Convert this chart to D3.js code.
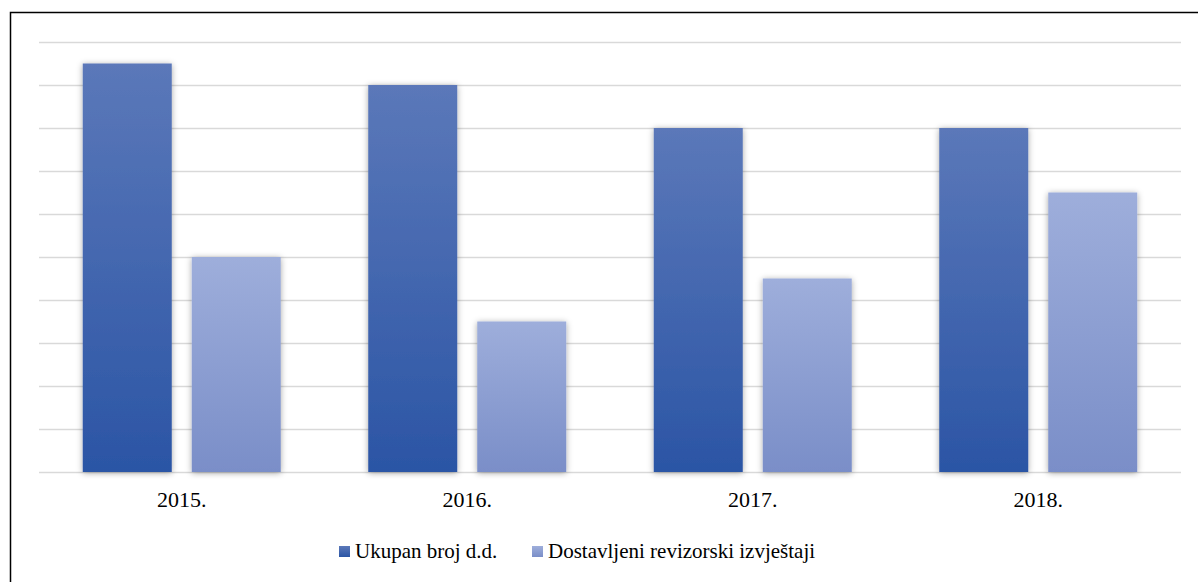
<!DOCTYPE html>
<html>
<head>
<meta charset="utf-8">
<script src="https://cdn.jsdelivr.net/npm/d3@7"></script>
<style>
  html, body { margin: 0; padding: 0; background: #fff; }
</style>
</head>
<body>
<div id="chart"></div>
<script>
// chart data
const years = ['2015.', '2016.', '2017.', '2018.']
const seriesNames = ['Ukupan broj d.d.', 'Dostavljeni revizorski izvještaji']
const totalCompanies = [9.5, 9, 8, 8]
const deliveredReports = [5, 3.5, 4.5, 6.5]
const yTicks = [0, 1, 2, 3, 4, 5, 6, 7, 8, 9, 10]

const W = 1198, H = 582
const margin = { t: 42, r: 17, b: 110, l: 39 }
const plotW = W - margin.l - margin.r
const plotH = H - margin.t - margin.b
const serif = "'Liberation Serif', 'Times New Roman', 'DejaVu Serif', serif"

const svg = d3.select('#chart').append('svg')
  .attr('width', W).attr('height', H)

// gradients + shadow
const defs = svg.append('defs')
const grads = [
  { id: 'gDark', top: '#5b78b9', bottom: '#2b55a5' },
  { id: 'gLight', top: '#9eaedb', bottom: '#7a8ec8' }
]
grads.forEach(function (g) {
  const lg = defs.append('linearGradient').attr('id', g.id)
    .attr('x1', 0).attr('y1', 0).attr('x2', 0).attr('y2', 1)
  lg.append('stop').attr('offset', '0%').attr('stop-color', g.top)
  lg.append('stop').attr('offset', '100%').attr('stop-color', g.bottom)
})
const f = defs.append('filter').attr('id', 'shadow')
  .attr('x', '-20%').attr('y', '-10%').attr('width', '140%').attr('height', '120%')
f.append('feDropShadow').attr('dx', 0).attr('dy', 1).attr('stdDeviation', 3)
  .attr('flood-color', '#000').attr('flood-opacity', 0.35)

// outer frame
svg.append('rect')
  .attr('x', 10.5).attr('y', 12.5).attr('width', 1300).attr('height', 700)
  .attr('fill', 'none').attr('stroke', '#000').attr('stroke-width', 1.5)

const g = svg.append('g').attr('transform', 'translate(' + margin.l + ',' + margin.t + ')')

const x = d3.scaleBand().domain(years).range([0, plotW]).paddingInner(0).paddingOuter(0)
const groupW = 198
const x1 = d3.scaleBand().domain(seriesNames).range([0, groupW]).paddingInner(20 / 109)
const y = d3.scaleLinear().domain([0, 10]).range([plotH, 0])

// gridlines
g.append('g').selectAll('line').data(yTicks).enter().append('line')
  .attr('x1', 0).attr('x2', plotW)
  .attr('y1', d => Math.round(y(d)) + 0.5).attr('y2', d => Math.round(y(d)) + 0.5)
  .attr('stroke', '#d9d9d9').attr('stroke-width', 1.5)

const data = years.map(function (yr, i) {
  return { year: yr, values: [totalCompanies[i], deliveredReports[i]] }
})

const groups = g.selectAll('.grp').data(data).enter().append('g')
  .attr('class', 'grp')
  .attr('transform', d => 'translate(' + (x(d.year) + (x.bandwidth() - groupW) / 2) + ',0)')

groups.selectAll('rect').data(d => d.values.map((v, j) => ({ v: v, s: seriesNames[j], j: j })))
  .enter().append('rect')
  .attr('x', d => x1(d.s))
  .attr('y', d => y(d.v))
  .attr('width', x1.bandwidth())
  .attr('height', d => plotH - y(d.v))
  .attr('fill', d => d.j === 0 ? 'url(#gDark)' : 'url(#gLight)')
  .attr('filter', 'url(#shadow)')

// category labels
g.selectAll('.xl').data(years).enter().append('text')
  .attr('class', 'xl')
  .attr('x', d => x(d) + x.bandwidth() / 2)
  .attr('y', plotH + 35)
  .attr('text-anchor', 'middle')
  .attr('font-family', serif)
  .attr('font-size', 22)
  .attr('fill', '#000')
  .text(d => d)

// legend
const legX = [339, 532]
const leg = svg.append('g')
seriesNames.forEach(function (s, i) {
  leg.append('rect')
    .attr('x', legX[i]).attr('y', 546).attr('width', 11).attr('height', 11)
    .attr('fill', i === 0 ? 'url(#gDark)' : 'url(#gLight)')
  leg.append('text')
    .attr('x', legX[i] + 16).attr('y', 558)
    .attr('font-family', serif)
    .attr('font-size', 21)
    .attr('fill', '#000')
    .text(s)
})
</script>
</body>
</html>
